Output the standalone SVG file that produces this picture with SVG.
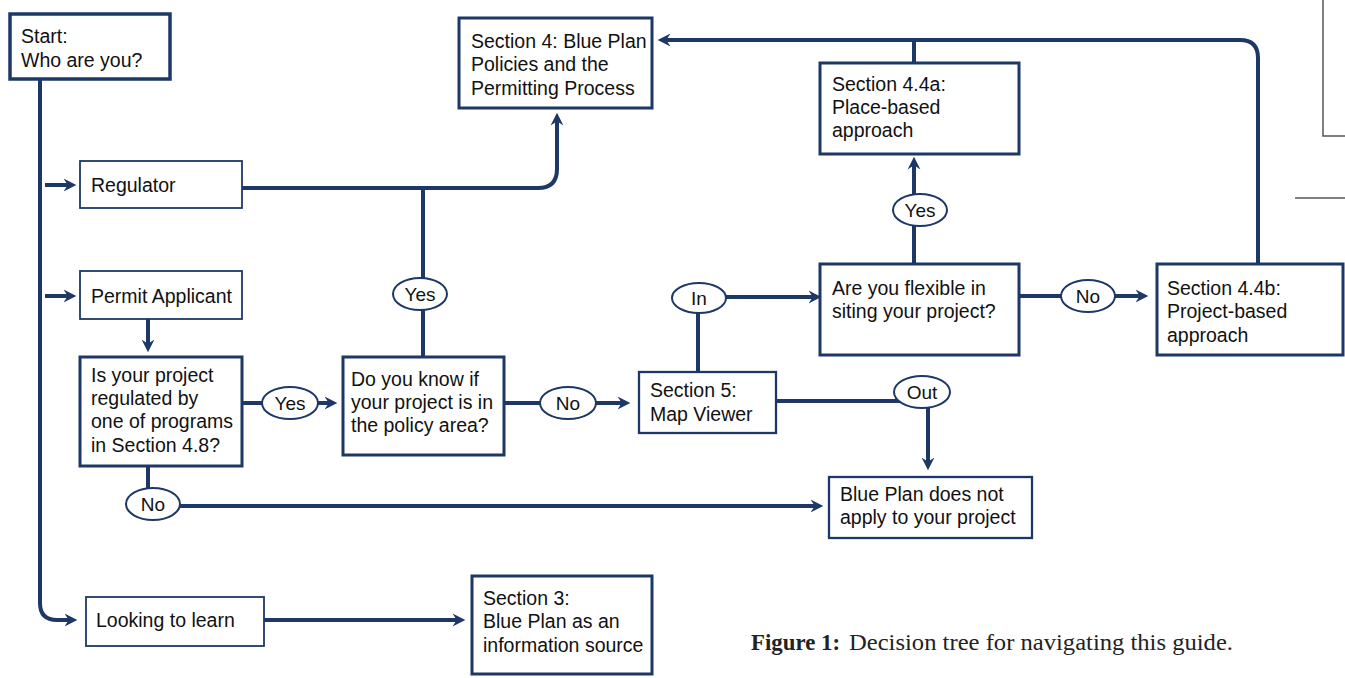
<svg xmlns="http://www.w3.org/2000/svg" width="1345" height="678" viewBox="0 0 1345 678">
<style>
.box{fill:#fff;stroke:#1d3866;stroke-width:3}
.thin{stroke-width:1.8}
.mid{stroke-width:2.3}
.t{font-family:"Liberation Sans",Arial,sans-serif;font-size:19.5px;fill:#111}
.lbl{font-family:"Liberation Sans",Arial,sans-serif;font-size:19px;fill:#111;text-anchor:middle}
.c{fill:none;stroke:#1d3866;stroke-width:4}
.ar{marker-end:url(#ah)}
.el{fill:#fff;stroke:#1d3866;stroke-width:2}
.frag{fill:none;stroke:#555;stroke-width:1.5}
.cap{font-family:"Liberation Serif","Times New Roman",serif;font-size:23.5px;fill:#222}
</style>
<defs>
<marker id="ah" viewBox="0 0 14 14" markerWidth="15" markerHeight="15" markerUnits="userSpaceOnUse" refX="7" refY="7" orient="auto">
<path d="M0,1 L12,7 L0,13 L4,7 Z" fill="#1d3866"/>
</marker>
</defs>
<rect width="1345" height="678" fill="#fff"/>
<g id="page-fragments">
<path class="frag" d="M1323,0 V136 H1345"/>
<path class="frag" d="M1295,198 H1345"/>
</g>
<g id="connectors">
<path class="c ar" d="M40,79 V603 Q40,620 57,620 H72"/>
<path class="c ar" d="M45,185 H71"/>
<path class="c ar" d="M45,296 H71"/>
<path class="c ar" d="M242,188 H538 Q557,188 557,169 V118"/>
<path class="c" d="M423,357 V188"/>
<path class="c ar" d="M148,319 V347"/>
<path class="c ar" d="M242,403 H332"/>
<path class="c ar" d="M148,466 V506 H818"/>
<path class="c ar" d="M504,403 H625"/>
<path class="c ar" d="M698,372 V297 H816"/>
<path class="c ar" d="M776,401 H928 V465"/>
<path class="c ar" d="M914,264 V162"/>
<path class="c ar" d="M1019,296 H1143"/>
<path class="c ar" d="M1258,264 V58 Q1258,40 1240,40 H663"/>
<path class="c" d="M914,63 V40"/>
<path class="c ar" d="M264,620 H460"/>
</g>
<g id="labels">
<g id="lbl-yes1"><ellipse class="el" cx="420" cy="294" rx="27" ry="16"/><text class="lbl" x="420" y="301">Yes</text></g>
<g id="lbl-yes2"><ellipse class="el" cx="290" cy="403" rx="28" ry="16"/><text class="lbl" x="290" y="410">Yes</text></g>
<g id="lbl-no1"><ellipse class="el" cx="568" cy="403" rx="28" ry="16"/><text class="lbl" x="568" y="410">No</text></g>
<g id="lbl-in"><ellipse class="el" cx="699" cy="298" rx="27" ry="15"/><text class="lbl" x="699" y="305">In</text></g>
<g id="lbl-out"><ellipse class="el" cx="922" cy="392" rx="28" ry="16"/><text class="lbl" x="922" y="399">Out</text></g>
<g id="lbl-yes3"><ellipse class="el" cx="920" cy="210" rx="27" ry="16"/><text class="lbl" x="920" y="217">Yes</text></g>
<g id="lbl-no2"><ellipse class="el" cx="1088" cy="296" rx="27" ry="16"/><text class="lbl" x="1088" y="303">No</text></g>
<g id="lbl-no3"><ellipse class="el" cx="153" cy="504" rx="27" ry="16"/><text class="lbl" x="153" y="511">No</text></g>
</g>
<g id="start"><rect class="box" x="10" y="14" width="160" height="65" style="stroke-width:3.5"/>
<text class="t" x="21" y="43">Start:</text><text class="t" x="21" y="67">Who are you?</text></g>
<g id="regulator"><rect class="box thin" x="80" y="161" width="162" height="47"/>
<text class="t" x="91" y="192">Regulator</text></g>
<g id="permit"><rect class="box thin" x="80" y="271" width="162" height="48"/>
<text class="t" x="91" y="303">Permit Applicant</text></g>
<g id="regulated"><rect class="box" x="80" y="357" width="162" height="109"/>
<text class="t" x="91" y="382">Is your project</text><text class="t" x="91" y="405">regulated by</text><text class="t" x="91" y="428">one of programs</text><text class="t" x="91" y="452">in Section 4.8?</text></g>
<g id="policy-area"><rect class="box" x="343" y="357" width="161" height="98"/>
<text class="t" x="351" y="386">Do you know if</text><text class="t" x="351" y="409">your project is in</text><text class="t" x="351" y="432">the policy area?</text></g>
<g id="section4"><rect class="box" x="459" y="18" width="193" height="90"/>
<text class="t" x="471" y="48">Section 4: Blue Plan</text><text class="t" x="471" y="71">Policies and the</text><text class="t" x="471" y="95">Permitting Process</text></g>
<g id="section44a"><rect class="box" x="820" y="63" width="199" height="91"/>
<text class="t" x="832" y="91">Section 4.4a:</text><text class="t" x="832" y="114">Place-based</text><text class="t" x="832" y="137">approach</text></g>
<g id="flexible"><rect class="box" x="820" y="264" width="199" height="91"/>
<text class="t" x="832" y="295">Are you flexible in</text><text class="t" x="832" y="318">siting your project?</text></g>
<g id="section44b"><rect class="box" x="1157" y="264" width="186" height="91"/>
<text class="t" x="1167" y="295">Section 4.4b:</text><text class="t" x="1167" y="318">Project-based</text><text class="t" x="1167" y="342">approach</text></g>
<g id="section5"><rect class="box mid" x="639" y="372" width="137" height="61"/>
<text class="t" x="650" y="397">Section 5:</text><text class="t" x="650" y="421">Map Viewer</text></g>
<g id="not-apply"><rect class="box mid" x="829" y="477" width="203" height="61"/>
<text class="t" x="840" y="501">Blue Plan does not</text><text class="t" x="840" y="524">apply to your project</text></g>
<g id="learn"><rect class="box thin" x="86" y="597" width="178" height="49"/>
<text class="t" x="96" y="627">Looking to learn</text></g>
<g id="section3"><rect class="box" x="472" y="576" width="180" height="98"/>
<text class="t" x="483" y="605">Section 3:</text><text class="t" x="483" y="628">Blue Plan as an</text><text class="t" x="483" y="652">information source</text></g>
<g id="caption">
<text class="cap" x="751" y="650" font-weight="bold" textLength="89" lengthAdjust="spacingAndGlyphs">Figure 1:</text>
<text class="cap" x="849" y="650" textLength="384" lengthAdjust="spacingAndGlyphs">Decision tree for navigating this guide.</text>
</g>
</svg>
